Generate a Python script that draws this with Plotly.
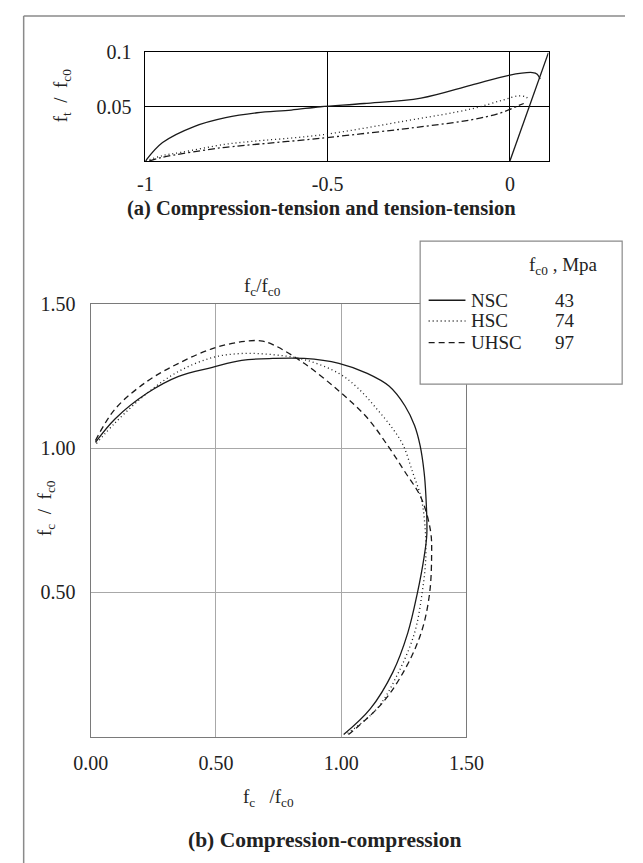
import plotly.graph_objects as go

W, H = 643, 863
FONT = "Liberation Serif"

# ---------- (a) compression-tension / tension-tension ----------
nsc_a_x = [-1.0, -0.953, -0.865, -0.78, -0.694, -0.6, -0.52, -0.4, -0.244, -0.106, -0.003, 0.062, 0.075, 0.083]
nsc_a_y = [0.0, 0.017, 0.032, 0.040, 0.0445, 0.047, 0.050, 0.053, 0.058, 0.070, 0.079, 0.0815, 0.080, 0.0755]
tt_x = [0.0, 0.106]
tt_y = [0.0, 0.1]
hsc_a_x = [-1.0, -0.953, -0.903, -0.78, -0.712, -0.52, -0.286, -0.106, -0.021, 0.023, 0.044, 0.054]
hsc_a_y = [0.0, 0.005, 0.008, 0.0155, 0.018, 0.024, 0.037, 0.048, 0.056, 0.060, 0.059, 0.056]
uhsc_a_x = [-0.99, -0.953, -0.818, -0.78, -0.52, -0.233, -0.106, -0.028, 0.023, 0.038]
uhsc_a_y = [0.0, 0.0035, 0.011, 0.0127, 0.021, 0.032, 0.038, 0.044, 0.051, 0.053]

# ---------- (b) compression-compression ----------
nsc_b_x = [0.019, 0.098, 0.226, 0.351, 0.486, 0.603, 0.727, 0.852, 0.991, 1.104, 1.191, 1.255, 1.293,
           1.315, 1.331, 1.338, 1.342, 1.331, 1.304, 1.266, 1.206, 1.116, 1.010]
nsc_b_y = [1.021, 1.103, 1.192, 1.250, 1.281, 1.305, 1.312, 1.312, 1.295, 1.260, 1.216, 1.147, 1.079,
           1.010, 0.918, 0.839, 0.702, 0.623, 0.497, 0.360, 0.223, 0.096, 0.007]
hsc_b_x = [0.023, 0.098, 0.226, 0.351, 0.486, 0.603, 0.727, 0.852, 0.991, 1.067, 1.142, 1.206, 1.248,
           1.285, 1.319, 1.334, 1.338, 1.323, 1.293, 1.229, 1.142, 1.018]
hsc_b_y = [1.017, 1.089, 1.192, 1.267, 1.315, 1.329, 1.325, 1.308, 1.260, 1.209, 1.137, 1.068, 1.010,
           0.918, 0.829, 0.736, 0.623, 0.497, 0.360, 0.223, 0.096, 0.007]
uhsc_b_x = [0.019, 0.098, 0.226, 0.351, 0.486, 0.603, 0.678, 0.727, 0.852, 0.991, 1.104, 1.191, 1.255,
            1.319, 1.357, 1.361, 1.353, 1.323, 1.263, 1.168, 1.029]
uhsc_b_y = [1.027, 1.137, 1.233, 1.295, 1.346, 1.370, 1.373, 1.360, 1.295, 1.199, 1.106, 1.003, 0.918,
            0.829, 0.712, 0.623, 0.497, 0.370, 0.247, 0.120, 0.007]

names = ["NSC", "HSC", "UHSC"]
fc0_values = [43, 74, 97]
a_xticks = [-1, -0.5, 0]
a_xlabels = ["-1", "-0.5", "0"]
a_yticks = [0.05, 0.1]
a_ylabels = ["0.05", "0.1"]
b_ticks = [0.0, 0.5, 1.0, 1.5]
b_labels = ["0.00", "0.50", "1.00", "1.50"]
b_yticks = [0.5, 1.0, 1.5]
b_ylabels = ["0.50", "1.00", "1.50"]

LINE = "#1a1a1a"
b_styles = ["solid", "1px,3px", "6px,4px"]
a_styles = ["solid", "1px,3px", "7px,3px,2px,3px"]

fig = go.Figure()
a_data = [(nsc_a_x, nsc_a_y), (hsc_a_x, hsc_a_y), (uhsc_a_x, uhsc_a_y)]
for (xs, ys), st in zip(a_data, a_styles):
    fig.add_trace(go.Scatter(x=xs, y=ys, mode="lines", line=dict(color=LINE, width=1.3, dash=st, shape="spline"),
                             xaxis="x", yaxis="y", showlegend=False, cliponaxis=True))
fig.add_trace(go.Scatter(x=tt_x, y=tt_y, mode="lines", line=dict(color=LINE, width=1.3),
                         xaxis="x", yaxis="y", showlegend=False))
b_data = [(nsc_b_x, nsc_b_y), (hsc_b_x, hsc_b_y), (uhsc_b_x, uhsc_b_y)]
for (xs, ys), st in zip(b_data, b_styles):
    fig.add_trace(go.Scatter(x=xs, y=ys, mode="lines", line=dict(color=LINE, width=1.3, dash=st, shape="spline"),
                             xaxis="x2", yaxis="y2", showlegend=False))

def px_x(p):
    return p / W

def px_y(p):
    return 1 - p / H

tickfont = dict(family=FONT, size=20, color="#222")
fig.update_layout(
    width=W, height=H, margin=dict(l=0, r=0, t=0, b=0),
    paper_bgcolor="white", plot_bgcolor="white",
    font=dict(family=FONT, color="#222"),
    xaxis=dict(domain=[px_x(135), px_x(562)], range=[-1, 0.106], tickvals=a_xticks, ticktext=a_xlabels,
               showgrid=True, gridcolor="black", gridwidth=1, zeroline=False, showline=True, mirror=True,
               linecolor="black", linewidth=1, ticks="", tickfont=tickfont, ticklabelstandoff=5, anchor="y"),
    yaxis=dict(domain=[px_y(152), px_y(42)], range=[0, 0.1], tickvals=a_yticks, ticktext=a_ylabels,
               showgrid=True, gridcolor="black", gridwidth=1, zeroline=False, showline=True, mirror=True,
               linecolor="black", linewidth=1, ticks="", tickfont=tickfont, ticklabelstandoff=9, anchor="x"),
    xaxis2=dict(domain=[px_x(77), px_x(475)], range=[0, 1.5], tickvals=b_ticks, ticktext=b_labels,
                showgrid=True, gridcolor="#a8a8a8", gridwidth=1, zeroline=False, showline=True, mirror=True,
                linecolor="#7a7a7a", linewidth=1.2, ticks="", tickfont=tickfont, ticklabelstandoff=8, anchor="y2"),
    yaxis2=dict(domain=[px_y(735), px_y(297)], range=[0, 1.5], tickvals=b_yticks, ticktext=b_ylabels,
                showgrid=True, gridcolor="#a8a8a8", gridwidth=1, zeroline=False, showline=True, mirror=True,
                linecolor="#7a7a7a", linewidth=1.2, ticks="", tickfont=tickfont, ticklabelstandoff=10, anchor="x2"),
)

shapes = []
# outer frame (top and left edges)
shapes.append(dict(type="line", xref="paper", yref="paper", x0=px_x(6), x1=1, y0=px_y(5), y1=px_y(5),
                   line=dict(color="#8a8a8a", width=1.5)))
shapes.append(dict(type="line", xref="paper", yref="paper", x0=px_x(6), x1=px_x(6), y0=0, y1=px_y(5),
                   line=dict(color="#8a8a8a", width=1.5)))
# legend box
shapes.append(dict(type="rect", xref="paper", yref="paper", x0=px_x(426), x1=px_x(640), y0=px_y(378), y1=px_y(233),
                   fillcolor="white", line=dict(color="#8a8a8a", width=1.2), layer="above"))
row_y = [293, 314, 336]
for ry, st in zip(row_y, b_styles):
    shapes.append(dict(type="line", xref="paper", yref="paper", x0=px_x(435), x1=px_x(474), y0=px_y(ry), y1=px_y(ry),
                       line=dict(color=LINE, width=1.3, dash=st), layer="above"))
fig.update_layout(shapes=shapes)

ann = []
def text(x, y, s, size=19, xanchor="center", yanchor="middle", angle=0):
    ann.append(dict(x=px_x(x), y=px_y(y), xref="paper", yref="paper", text=s, showarrow=False,
                    xanchor=xanchor, yanchor=yanchor, textangle=angle,
                    font=dict(family=FONT, size=size, color="#222")))

text(47, 85, "f<sub>t</sub>  /  f<sub>c0</sub>", size=19, angle=-90)
text(322, 200, "<b>(a) Compression-tension and tension-tension</b>", size=20.5)
text(259, 280, "f<sub>c</sub>/f<sub>c0</sub>", size=19)
text(29, 503, "f<sub>c</sub>  /  f<sub>c0</sub>", size=19, angle=-90)
text(265, 797, "f<sub>c</sub>   /f<sub>c0</sub>", size=19)
text(325, 840, "<b>(b) Compression-compression</b>", size=21.5)
text(578, 258, "f<sub>c0</sub> , Mpa", size=19)
for ry, nm, v in zip(row_y, names, fc0_values):
    text(478, ry, nm, size=19, xanchor="left")
    text(567, ry, str(v), size=19, xanchor="left")
fig.update_layout(annotations=ann)

fig.write_html("out.html")
